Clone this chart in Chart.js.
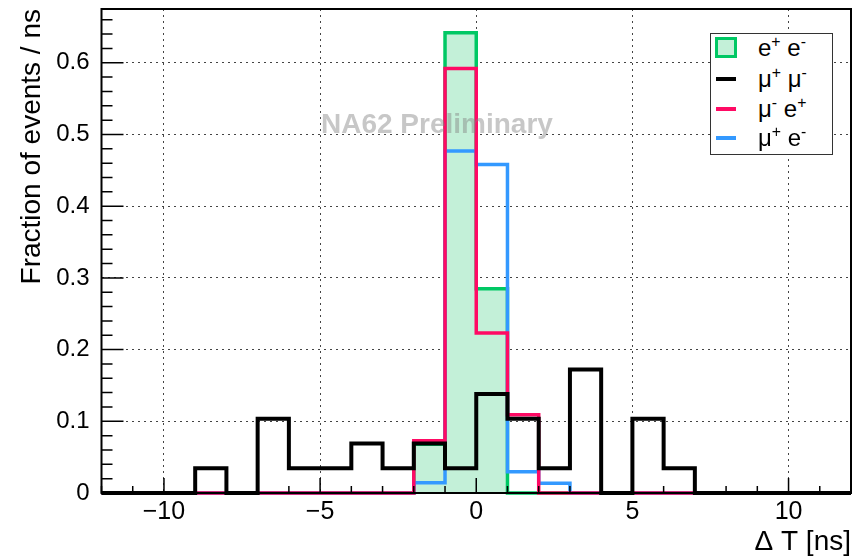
<!DOCTYPE html>
<html>
<head>
<meta charset="utf-8">
<script src="https://cdn.jsdelivr.net/npm/chart.js@4.4.1/dist/chart.umd.min.js"></script>
<style>
  html, body { margin: 0; padding: 0; background: #fff; }
  #wrap { position: relative; width: 862px; height: 559px; }
  #wrap canvas { position: absolute; left: 0; top: 0; }
  #mark { position: absolute; left: 321px; top: 108px; font: bold 28px "Liberation Sans", Arial, sans-serif;
          color: rgba(130, 130, 130, 0.45); white-space: nowrap; }
  #legend { position: absolute; left: 710px; top: 33px; width: 121px; height: 120px;
            border: 1.5px solid #333; background: #fff; font: 24px "Liberation Sans", Arial, sans-serif; }
  .row { position: absolute; left: 0; width: 100%; height: 30px; }
  .sym { position: absolute; box-sizing: border-box; }
  .lbl { position: absolute; left: 47px; top: 0; line-height: 30px; white-space: nowrap; color: #000; }
  .lbl sup { font-size: 66%; vertical-align: 0; position: relative; top: -0.6em; }
</style>
</head>
<body>
<div id="wrap">
  <canvas id="grafica" width="862" height="559"></canvas>
  <div id="mark">NA62 Preliminary</div>
  <div id="legend"></div>
</div>
<script>
// bins of 1 ns, low edges from -12 to 11
const binLow = [-12, -11, -10, -9, -8, -7, -6, -5, -4, -3, -2, -1, 0, 1, 2, 3, 4, 5, 6, 7, 8, 9, 10, 11];
const binWidth = 1;

//                  -12 -11 -10 -9      -8  -7      -6      -5      -4     -3      -2     -1      0       1       2       3       4  5       6       7 8 9 10 11
const eeVals   = [0, 0, 0, 0,      0,  0,      0,      0,      0,     0,      0.068, 0.642, 0.285,  0,      0,      0,      0, 0,      0,      0,0,0,0,0];
const mumuVals = [0, 0, 0, 0.0345, 0,  0.1034, 0.0345, 0.0345, 0.069, 0.0345, 0.069, 0.0345, 0.1379, 0.1034, 0.0345, 0.1724, 0, 0.1034, 0.0345, 0,0,0,0,0];
const mueVals  = [0, 0, 0, 0,      0,  0,      0,      0,      0,     0,      0.073, 0.592, 0.223,  0.109,  0,      0,      0, 0,      0,      0,0,0,0,0];
const emuVals  = [0, 0, 0, 0,      0,  0,      0,      0,      0,     0,      0.0144, 0.477, 0.458, 0.0297, 0.0135, 0,      0, 0,      0,      0,0,0,0,0];

const xTicks = [-10, -5, 0, 5, 10];
const yTicks = [0, 0.1, 0.2, 0.3, 0.4, 0.5, 0.6];

const nombres = ['e<sup>+</sup> e<sup>-</sup>', '&mu;<sup>+</sup> &mu;<sup>-</sup>', '&mu;<sup>-</sup> e<sup>+</sup>', '&mu;<sup>+</sup> e<sup>-</sup>'];
const colores = ['#00c864', '#000000', '#ff0a64', '#3399ff'];

function escalones(vals) {
  const pts = vals.map((v, i) => ({ x: binLow[i], y: v }));
  pts.push({ x: binLow[binLow.length - 1] + binWidth, y: vals[vals.length - 1] });
  return pts;
}

Chart.defaults.font.family = '"Liberation Sans", Arial, sans-serif';
Chart.defaults.color = '#000';

const marco = {
  id: 'marco',
  afterDatasetsDraw(chart) {
    const { ctx, chartArea: a, scales: { x, y } } = chart;
    ctx.save();
    ctx.strokeStyle = '#000';
    ctx.lineWidth = 1.5;
    ctx.beginPath();
    for (let v = -12; v <= 12; v++) {
      const px = x.getPixelForValue(v);
      const len = v % 5 === 0 ? 15 : 7;
      ctx.moveTo(px, a.bottom);
      ctx.lineTo(px, a.bottom - len);
    }
    for (let k = 0; k <= 33; k++) {
      const py = y.getPixelForValue(k * 0.02);
      const len = k % 5 === 0 ? 22 : 11;
      ctx.moveTo(a.left, py);
      ctx.lineTo(a.left + len, py);
    }
    ctx.stroke();
    ctx.lineWidth = 2;
    ctx.strokeRect(a.left, a.top, a.right - a.left, a.bottom - a.top);
    ctx.restore();
  }
};

const ctx = document.getElementById('grafica').getContext('2d');

const grafica = new Chart(ctx, {
  type: 'line',
  data: {
    datasets: [
      { label: 'e+ e-', data: escalones(eeVals), borderColor: colores[0], backgroundColor: '#c3f0d8',
        fill: 'origin', borderWidth: 3.5, order: 3 },
      { label: 'mu+ mu-', data: escalones(mumuVals), borderColor: colores[1], borderWidth: 4, fill: false, order: 0 },
      { label: 'mu- e+', data: escalones(mueVals), borderColor: colores[2], borderWidth: 3.5, fill: false, order: 1 },
      { label: 'mu+ e-', data: escalones(emuVals), borderColor: colores[3], borderWidth: 3.5, fill: false, order: 2 }
    ].map(d => Object.assign(d, { stepped: 'before', pointRadius: 0, clip: 6, borderJoinStyle: 'miter' }))
  },
  options: {
    responsive: false,
    animation: false,
    devicePixelRatio: 1,
    layout: { padding: { top: 9, right: 11, left: 0, bottom: 0 } },
    plugins: { legend: { display: false }, tooltip: { enabled: false } },
    scales: {
      x: {
        type: 'linear', min: -12, max: 12,
        afterBuildTicks: s => { s.ticks = xTicks.map(v => ({ value: v })); },
        afterFit: s => { s.height = 66; s.paddingLeft = 0; s.paddingRight = 0; },
        ticks: { font: { size: 25 }, padding: 4, maxRotation: 0, autoSkip: false,
                 callback: v => String(v).replace('-', '\u2212') },
        grid: { color: '#444', lineWidth: 1, drawTicks: false },
        border: { display: false, dash: [2, 4] },
        title: { display: true, text: '\u0394 T [ns]', align: 'end', font: { size: 28 }, padding: { top: 0, bottom: 0 } }
      },
      y: {
        min: 0, max: 0.675,
        afterBuildTicks: s => { s.ticks = yTicks.map(v => ({ value: v })); },
        afterFit: s => { s.width = 101.5; s.paddingTop = 0; s.paddingBottom = 0; },
        ticks: { font: { size: 24 }, padding: 12, callback: v => v === 0 ? '0' : v.toFixed(1) },
        grid: { color: '#444', lineWidth: 1, drawTicks: false },
        border: { display: false, dash: [2, 4] },
        title: { display: true, text: 'Fraction of events / ns', align: 'end', font: { size: 28 }, padding: { top: 15 } }
      }
    }
  },
  plugins: [marco]
});

// leyenda
const leyenda = document.getElementById('legend');
const filas = [14, 45, 75, 104];
nombres.forEach((n, i) => {
  const fila = document.createElement('div');
  fila.className = 'row';
  fila.style.top = (filas[i] - 15) + 'px';
  const sym = document.createElement('div');
  sym.className = 'sym';
  if (i === 0) {
    Object.assign(sym.style, { left: '4px', top: '4px', width: '22px', height: '21px',
      border: '3px solid ' + colores[0], background: '#c3f0d8' });
  } else {
    Object.assign(sym.style, { left: '5px', top: '13px', width: '20px', height: '4px', background: colores[i] });
  }
  const lbl = document.createElement('div');
  lbl.className = 'lbl';
  lbl.innerHTML = n;
  fila.appendChild(sym);
  fila.appendChild(lbl);
  leyenda.appendChild(fila);
});
</script>
</body>
</html>
